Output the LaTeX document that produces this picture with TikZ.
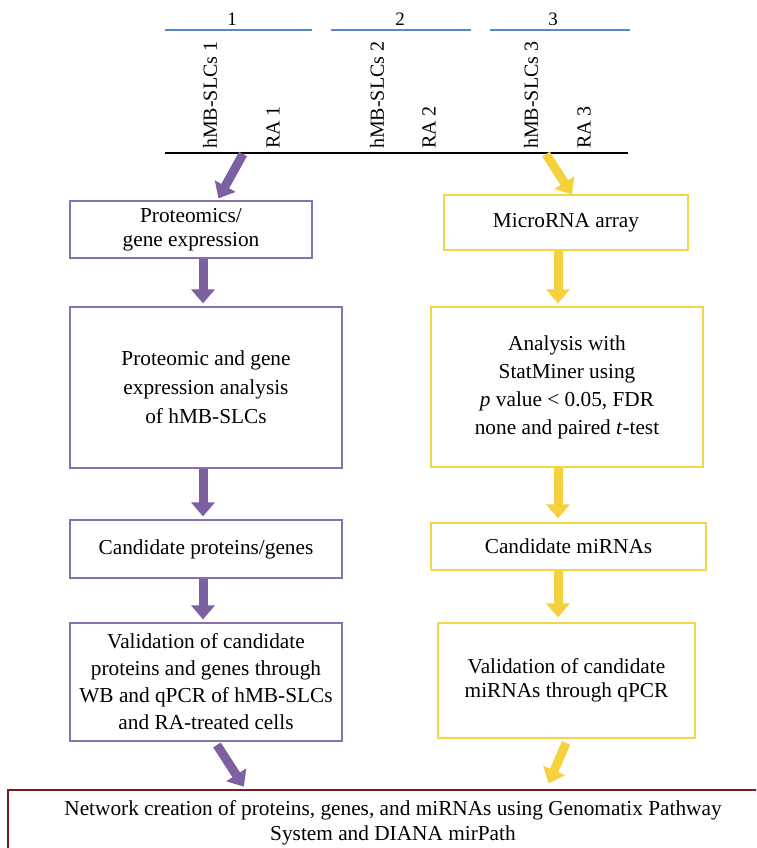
\documentclass[tikz,border=0pt]{standalone}
\usepackage{fontspec}
\setmainfont{Liberation Serif}
\usetikzlibrary{arrows.meta}

\definecolor{plum}{HTML}{7D60A0}
\definecolor{plumline}{HTML}{8A70AE}
\definecolor{gold}{HTML}{F4D13D}
\definecolor{goldline}{HTML}{F2D548}
\definecolor{skyline}{HTML}{5B86C9}
\definecolor{wine}{HTML}{7A1B1B}

\begin{document}
\begin{tikzpicture}[x=1pt,y=-1pt,
    pbox/.style={draw=plumline, line width=1.2pt, align=center, inner sep=0pt},
    ybox/.style={draw=goldline, line width=1.2pt, align=center, inner sep=0pt},
    parrow/.style={plum, line width=9pt, -{Triangle[width=23pt,length=14pt]}},
    yarrow/.style={gold, line width=9pt, -{Triangle[width=23pt,length=14pt]}},
    lbl/.style={rotate=90, anchor=west, inner sep=0pt, font=\fontsize{20}{24}\selectfont}]

    \useasboundingbox (0,0) rectangle (756,848);
    \clip (0,0) rectangle (756,848);

    % samples
    \node(g1) at (232,19){\fontsize{19}{22}\selectfont 1};
    \node(g2) at (400,19){\fontsize{19}{22}\selectfont 2};
    \node(g3) at (553,19){\fontsize{19}{22}\selectfont 3};

    \draw[skyline, line width=1.5pt] (165,30) -- (312,30);
    \draw[skyline, line width=1.5pt] (331,30) -- (471,30);
    \draw[skyline, line width=1.5pt] (490,30) -- (630,30);

    \node[lbl](h1) at (210,149){hMB-SLCs 1};
    \node[lbl](r1) at (273,149){RA 1};
    \node[lbl](h2) at (377,149){hMB-SLCs 2};
    \node[lbl](r2) at (429,149){RA 2};
    \node[lbl](h3) at (531,149){hMB-SLCs 3};
    \node[lbl](r3) at (584,149){RA 3};

    \draw[black, line width=1.8pt] (165,153) -- (628,153);

    % left column
    \node[pbox, minimum width=242pt, minimum height=57pt, font=\fontsize{21.3}{23.5}\selectfont](l1) at (191,229.5){Proteomics/\\gene expression};
    \node[pbox, minimum width=272pt, minimum height=161pt, font=\fontsize{21.3}{29}\selectfont](l2) at (206,387.5){Proteomic and gene\\expression analysis\\of hMB-SLCs};
    \node[pbox, minimum width=272pt, minimum height=58pt, font=\fontsize{21.3}{24}\selectfont](l3) at (206,549){Candidate proteins/genes};
    \node[pbox, minimum width=272pt, minimum height=118pt, font=\fontsize{21.3}{27}\selectfont](l4) at (206,682){Validation of candidate\\proteins and genes through\\WB and qPCR of hMB-SLCs\\and RA-treated cells};

    % right column
    \node[ybox, minimum width=244pt, minimum height=55pt, font=\fontsize{21.3}{24}\selectfont](m1) at (566,222.5){MicroRNA array};
    \node[ybox, minimum width=272pt, minimum height=160pt, font=\fontsize{21.3}{28}\selectfont](m2) at (567,387){Analysis with\\StatMiner using\\\textit{p} value < 0.05, FDR\\none and paired \textit{t}-test};
    \node[ybox, minimum width=275pt, minimum height=47pt, font=\fontsize{21.3}{24}\selectfont](m3) at (568.5,546.5){Candidate miRNAs};
    \node[ybox, minimum width=257pt, minimum height=115pt, font=\fontsize{21.3}{24}\selectfont](m4) at (566.5,680.5){Validation of candidate\\miRNAs through qPCR};

    % network
    \node[draw=wine, line width=1.2pt, align=center, inner sep=0pt, minimum width=770pt, minimum height=66pt, font=\fontsize{21.3}{25}\selectfont](net) at (393,823){Network creation of proteins, genes, and miRNAs using Genomatix Pathway\\System and DIANA mirPath};

    \coordinate(lx) at (203,0);
    \coordinate(rx) at (558,0);
    \coordinate(ls) at (243,154);
    \coordinate(le) at (217,201);
    \coordinate(rs) at (546,154);
    \coordinate(re) at (573,196);
    \coordinate(lb) at (217,745);
    \coordinate(lbe) at (246,790);
    \coordinate(rb) at (566,743);
    \coordinate(rbe) at (547,787);

    \draw[parrow, shorten >=3pt] (ls) -- (le);
    \draw[parrow, shorten >=3pt] (l1.south -| lx) -- (l2.north -| lx);
    \draw[parrow, shorten >=3pt] (l2.south -| lx) -- (l3.north -| lx);
    \draw[parrow, shorten >=3pt] (l3.south -| lx) -- (l4.north -| lx);
    \draw[parrow, shorten >=4pt] (lb) -- (lbe);

    \draw[yarrow, shorten >=2pt] (rs) -- (re);
    \draw[yarrow, shorten >=3pt] (m1.south -| rx) -- (m2.north -| rx);
    \draw[yarrow, shorten >=4pt] (m2.south -| rx) -- (m3.north -| rx);
    \draw[yarrow, shorten >=5pt] (m3.south -| rx) -- (m4.north -| rx);
    \draw[yarrow, shorten >=4pt] (rb) -- (rbe);

  \end{tikzpicture}
\end{document}
